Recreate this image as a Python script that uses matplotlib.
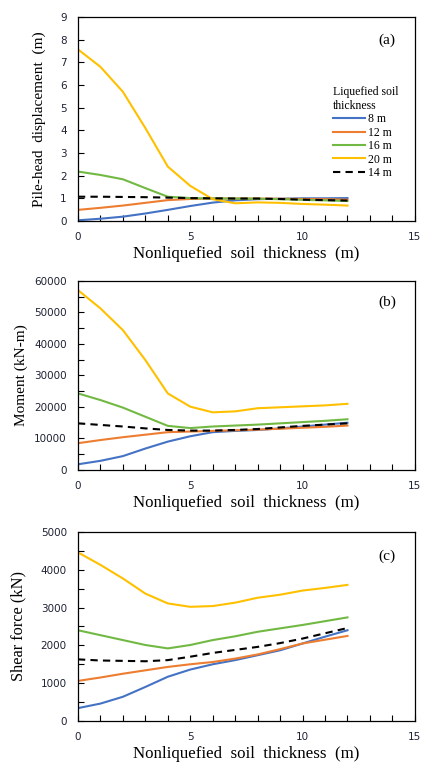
import numpy as np
import matplotlib
matplotlib.use("Agg")
import matplotlib.pyplot as plt
from matplotlib.ticker import MultipleLocator

plt.rcParams['font.family'] = ['Liberation Serif', 'DejaVu Serif']

# nonliquefied soil thickness (m)
thick = [0, 1, 2, 3, 4, 5, 6, 7, 8, 9, 10, 11, 12]
labels = ['8 m', '12 m', '16 m', '20 m', '14 m']

# (a) pile-head displacement (m)
disp_8 = [0.03, 0.1, 0.19, 0.33, 0.49, 0.66, 0.81, 0.91, 0.96, 0.98, 1.0, 1.0, 1.01]
disp_12 = [0.49, 0.58, 0.68, 0.8, 0.92, 0.97, 0.99, 0.99, 0.99, 0.98, 0.97, 0.96, 0.94]
disp_16 = [2.18, 2.03, 1.84, 1.45, 1.07, 1.01, 0.99, 0.99, 0.98, 0.96, 0.93, 0.91, 0.88]
disp_20 = [7.57, 6.8, 5.7, 4.1, 2.4, 1.55, 0.96, 0.78, 0.82, 0.8, 0.75, 0.72, 0.68]
disp_14 = [1.07, 1.07, 1.06, 1.05, 1.03, 1.01, 1.0, 0.99, 0.99, 0.97, 0.94, 0.92, 0.9]

# (b) moment (kN-m)
mom_8 = [1800, 2900, 4400, 6800, 9000, 10700, 12000, 12400, 12700, 13200, 13800, 14400, 15000]
mom_12 = [8500, 9500, 10400, 11200, 12000, 12200, 12400, 12600, 12800, 13100, 13400, 13700, 14100]
mom_16 = [24300, 22200, 19800, 16900, 14000, 13300, 13800, 14100, 14400, 14800, 15200, 15600, 16100]
mom_20 = [57100, 51300, 44400, 34900, 24300, 20100, 18300, 18600, 19600, 19900, 20200, 20500, 21000]
mom_14 = [14800, 14300, 13800, 13200, 12700, 12500, 12500, 12700, 13000, 13500, 14000, 14400, 14800]

# (c) shear force (kN)
shear_8 = [340, 460, 640, 900, 1170, 1360, 1500, 1610, 1740, 1870, 2050, 2230, 2400]
shear_12 = [1060, 1150, 1250, 1340, 1430, 1500, 1560, 1650, 1760, 1900, 2050, 2150, 2250]
shear_16 = [2400, 2270, 2140, 2010, 1920, 2010, 2140, 2240, 2360, 2450, 2540, 2640, 2740]
shear_20 = [4460, 4130, 3770, 3370, 3110, 3020, 3040, 3130, 3260, 3340, 3450, 3520, 3600]
shear_14 = [1630, 1600, 1590, 1580, 1610, 1700, 1800, 1880, 1960, 2060, 2180, 2320, 2460]

colors = ['#4472C4', '#ED7D31', '#72B944', '#FFC000', 'black']
styles = ['-', '-', '-', '-', '--']

# series, y title, title size, title x (axes coords), ymax, major, minor, tag, bottom, height, tag y
panels = [
    ([disp_8, disp_12, disp_16, disp_20, disp_14], 'Pile-head  displacement  (m)', 11, -0.095,
     9, 1, None, '(a)', 0.7145, 0.2636, 0.887),
    ([mom_8, mom_12, mom_16, mom_20, mom_14], 'Moment (kN-m)', 11, -0.148,
     60000, 10000, 5000, '(b)', 0.3928, 0.2442, 0.889),
    ([shear_8, shear_12, shear_16, shear_20, shear_14], 'Shear force (kN)', 11.8, -0.153,
     5000, 1000, 500, '(c)', 0.0685, 0.2442, 0.873),
]

fig = plt.figure(figsize=(4.48, 7.74), dpi=100)

for k, (series, ylabel, ysize, ylab_x, ymax, ymaj, ymin, tag, bottom, height, tag_y) in enumerate(panels):
    ax = fig.add_axes([0.174, bottom, 0.752, height])
    for s, c, ls, lab in zip(series, colors, styles, labels):
        if ls == '--':
            ax.plot(thick, s, color=c, lw=1.5, ls=ls, dashes=(3.5, 2.5), label=lab, zorder=3)
        else:
            ax.plot(thick, s, color=c, lw=1.5, label=lab)
    ax.set_xlim(0, 15)
    ax.set_ylim(0, ymax)
    ax.xaxis.set_major_locator(MultipleLocator(5))
    ax.xaxis.set_minor_locator(MultipleLocator(1))
    ax.yaxis.set_major_locator(MultipleLocator(ymaj))
    if ymin:
        ax.yaxis.set_minor_locator(MultipleLocator(ymin))
    ax.tick_params(which='both', direction='in', labelsize=7.5, labelcolor='#1e2233', width=0.8)
    ax.tick_params(which='major', length=4, pad=8)
    ax.tick_params(which='minor', length=4)
    for lbl in ax.get_xticklabels() + ax.get_yticklabels():
        lbl.set_family('DejaVu Sans')
    for sp in ax.spines.values():
        sp.set_linewidth(0.9)
    ax.set_xlabel('Nonliquefied  soil  thickness  (m)', fontsize=12.2, labelpad=3)
    ax.set_ylabel(ylabel, fontsize=ysize)
    ax.yaxis.set_label_coords(ylab_x, 0.5)
    ax.text(0.917, tag_y, tag, transform=ax.transAxes, fontsize=11, ha='center', va='center')
    if k == 0:
        leg = ax.legend(loc='upper left', bbox_to_anchor=(0.74, 0.69), frameon=False,
                        title='Liquefied soil\nthickness', fontsize=8.5, title_fontsize=8.5,
                        handlelength=2.7, handletextpad=0.25, labelspacing=0.12,
                        borderpad=0, alignment='left')

fig.savefig('out.png', dpi=100)
